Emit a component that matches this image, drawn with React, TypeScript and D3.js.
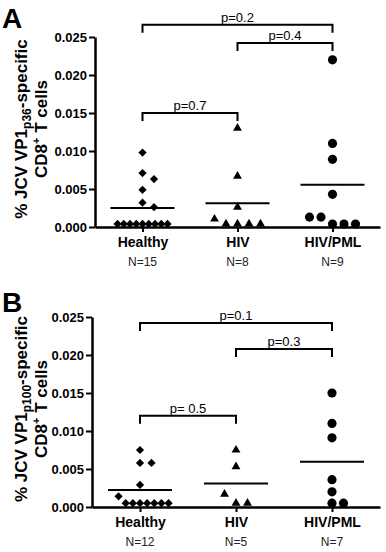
import React, { useEffect, useRef } from 'react';
import * as d3 from 'd3';

const categories = ['Healthy', 'HIV', 'HIV/PML'];
const yTicks = [0, 0.005, 0.01, 0.015, 0.02, 0.025];

// VP1 p36 responses (% of CD8+ T cells)
const healthyP36 = [0.0098, 0.0071, 0.0063, 0.0049, 0.0032, 0.0026, 0.0004, 0.0004, 0.0004, 0.0004, 0.0004, 0.0004, 0.0004, 0.0004, 0.0004];
const hivP36 = [0.013, 0.0067, 0.0026, 0.00105, 0.0004, 0.0004, 0.0004, 0.0004];
const pmlP36 = [0.022, 0.011, 0.0089, 0.0043, 0.0013, 0.0013, 0.0004, 0.0004, 0.0004];

// VP1 p100 responses
const healthyP100 = [0.0075, 0.0058, 0.0058, 0.0029, 0.0014, 0.0005, 0.0005, 0.0005, 0.0005, 0.0005, 0.0005, 0.0005];
const hivP100 = [0.0075, 0.0053, 0.0017, 0.0005, 0.0005];
const pmlP100 = [0.015, 0.011, 0.0091, 0.0036, 0.002, 0.0005, 0.0005];

// Mann-Whitney comparisons drawn above the columns
const bracketsP36 = [
  { from: 'Healthy', to: 'HIV/PML', at: 0.0266, label: 'p=0.2' },
  { from: 'HIV', to: 'HIV/PML', at: 0.0242, label: 'p=0.4' },
  { from: 'Healthy', to: 'HIV', at: 0.015, label: 'p=0.7' }
];
const bracketsP100 = [
  { from: 'Healthy', to: 'HIV/PML', at: 0.0242, label: 'p=0.1' },
  { from: 'HIV', to: 'HIV/PML', at: 0.0208, label: 'p=0.3' },
  { from: 'Healthy', to: 'HIV', at: 0.012, label: 'p= 0.5' }
];

const panels = [
  { letter: 'A', peptide: 'p36', groups: [healthyP36, hivP36, pmlP36], brackets: bracketsP36, top: 37, left: 95, letterY: 28 },
  { letter: 'B', peptide: 'p100', groups: [healthyP100, hivP100, pmlP100], brackets: bracketsP100, top: 317, left: 92, letterY: 312 }
];

const plotHeight = 190;
const plotRight = 380;

const markers = [
  d3.symbol(d3.symbolSquare, 34),
  d3.symbol(d3.symbolTriangle, 34),
  d3.symbol(d3.symbolCircle, 66)
];

// GraphPad-style scatter: values close together share a row and are spread sideways
function spread(values, y, spacing = 11.5, maxWidth = 50, gap = 10) {
  const sorted = [...values].sort((a, b) => a - b);
  const rows = [];
  sorted.forEach(v => {
    const row = rows[rows.length - 1];
    if (row && y(row[0]) - y(v) < gap) row.push(v);
    else rows.push([v]);
  });
  const out = [];
  rows.forEach(row => {
    row.sort((a, b) => b - a);
    const n = row.length;
    const step = n > 1 ? Math.min(spacing, maxWidth / (n - 1)) : 0;
    const start = Math.floor((n - 1) / 2);
    row.forEach((v, k) => out.push({ v, dx: (k - start) * step }));
  });
  return out;
}

function drawPanel(svg, p) {
  const bottom = p.top + plotHeight;
  const g = svg.append('g');

  const y = d3.scaleLinear().domain([0, 0.025]).range([bottom, p.top]);
  const x = d3.scalePoint().domain(categories).range([p.left, plotRight]).padding(0.5);

  // panel letter
  g.append('text')
    .attr('x', 2)
    .attr('y', p.letterY)
    .attr('font-size', 28)
    .attr('font-weight', 'bold')
    .text(p.letter);

  // y axis title
  const cy = (p.top + bottom) / 2 - 3;
  const t1 = g.append('text')
    .attr('transform', `translate(27,${cy}) rotate(-90)`)
    .attr('text-anchor', 'middle')
    .attr('font-size', 17)
    .attr('font-weight', 'bold');
  t1.append('tspan').text('% JCV VP1');
  t1.append('tspan').attr('font-size', 12).attr('dy', 4).text(p.peptide);
  t1.append('tspan').attr('dy', -4).text('-specific');

  const t2 = g.append('text')
    .attr('transform', `translate(47,${cy}) rotate(-90)`)
    .attr('text-anchor', 'middle')
    .attr('font-size', 17)
    .attr('font-weight', 'bold');
  t2.append('tspan').text('CD8');
  t2.append('tspan').attr('font-size', 11).attr('dy', -7).text('+');
  t2.append('tspan').attr('dy', 7).text(' T cells');

  // axes
  const ya = g.append('g')
    .attr('transform', `translate(${p.left},0)`)
    .call(d3.axisLeft(y).tickValues(yTicks).tickFormat(d3.format('.3f')).tickSize(6).tickSizeOuter(0).tickPadding(2));
  ya.attr('font-size', 13).attr('font-weight', 'bold').attr('font-family', null);
  ya.select('.domain').attr('stroke-width', 2.5);
  ya.selectAll('.tick line').attr('stroke-width', 2);

  const xa = g.append('g')
    .attr('transform', `translate(0,${bottom})`)
    .call(d3.axisBottom(x).tickSize(5).tickSizeOuter(0).tickPadding(5));
  xa.attr('font-size', 14).attr('font-weight', 'bold').attr('font-family', null);
  xa.select('.domain').attr('stroke-width', 2.5);
  xa.selectAll('.tick line').attr('stroke-width', 2);

  // group sizes under the category names
  g.selectAll('text.n')
    .data(p.groups)
    .join('text')
    .attr('class', 'n')
    .attr('x', (d, i) => x(categories[i]))
    .attr('y', bottom + 39)
    .attr('text-anchor', 'middle')
    .attr('font-size', 12)
    .attr('fill', '#222')
    .text(d => `N=${d.length}`);

  // points and means
  p.groups.forEach((values, i) => {
    const cx = x(categories[i]);
    g.append('g')
      .selectAll('path')
      .data(spread(values, y))
      .join('path')
      .attr('d', markers[i])
      .attr('transform', d => `translate(${cx + d.dx},${y(d.v)})${i === 0 ? ' rotate(45)' : ''}`)
      .attr('fill', '#000');

    const m = d3.mean(values);
    g.append('line')
      .attr('x1', cx - 32)
      .attr('x2', cx + 32)
      .attr('y1', y(m))
      .attr('y2', y(m))
      .attr('stroke', '#000')
      .attr('stroke-width', 2);
  });

  // significance brackets
  const br = g.append('g');
  p.brackets.forEach(b => {
    const x1 = x(b.from);
    const x2 = x(b.to);
    const by = y(b.at);
    br.append('path')
      .attr('d', `M${x1},${by + 8}V${by}H${x2}V${by + 8}`)
      .attr('fill', 'none')
      .attr('stroke', '#000')
      .attr('stroke-width', 2);
    br.append('text')
      .attr('x', (x1 + x2) / 2)
      .attr('y', by - 3)
      .attr('text-anchor', 'middle')
      .attr('font-size', 13)
      .text(b.label);
  });
}

const App = () => {
  const ref = useRef(null);

  useEffect(() => {
    if (!ref.current) return;
    const svg = d3.select(ref.current);
    svg.selectAll('*').remove();
    panels.forEach(p => drawPanel(svg, p));
  }, []);

  return (
    <svg
      ref={ref}
      width={386}
      height={552}
      style={{ position: 'absolute', left: 0, top: 0, background: '#fff' }}
      fontFamily="'Liberation Sans', Arial, sans-serif"
    ></svg>
  );
};

export default App;
